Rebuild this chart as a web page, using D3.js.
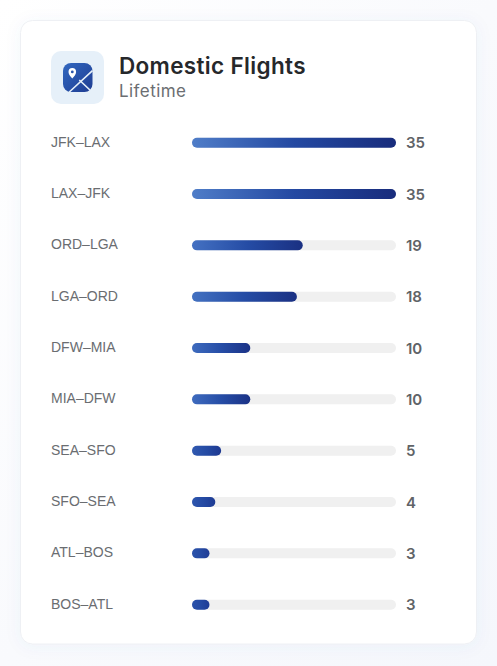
<!DOCTYPE html>
<html><head><meta charset="utf-8">
<script src="https://cdnjs.cloudflare.com/ajax/libs/d3/7.8.5/d3.min.js"></script>
<style>html,body{margin:0;padding:0;background:#fff;overflow:hidden}svg{display:block}</style>
</head><body><svg id="c" width="497" height="666"></svg>
<script>
const routes = ["JFK–LAX","LAX–JFK","ORD–LGA","LGA–ORD","DFW–MIA","MIA–DFW","SEA–SFO","SFO–SEA","ATL–BOS","BOS–ATL"];
const flights = [35,35,19,18,10,10,5,4,3,3];
const title = "Domestic Flights";
const subtitle = "Lifetime";

const svg = d3.select("#c");
const defs = svg.append("defs");
const bg = defs.append("linearGradient").attr("id","bg").attr("x1",0).attr("y1",0).attr("x2",1).attr("y2",1);
bg.append("stop").attr("offset",0).attr("stop-color","#ffffff");
bg.append("stop").attr("offset",0.5).attr("stop-color","#f9fafd");
bg.append("stop").attr("offset",1).attr("stop-color","#f5f7fc");
const ig = defs.append("linearGradient").attr("id","ig").attr("x1",0).attr("y1",0).attr("x2",1).attr("y2",1);
ig.append("stop").attr("offset",0).attr("stop-color","#3268c0");
ig.append("stop").attr("offset",1).attr("stop-color","#1e3c92");
const sh = defs.append("filter").attr("id","sh").attr("x","-10%").attr("y","-10%").attr("width","120%").attr("height","120%");
sh.append("feDropShadow").attr("dx",0).attr("dy",2).attr("stdDeviation",8).attr("flood-color","#5a6fb0").attr("flood-opacity",0.05);

svg.append("rect").attr("width",497).attr("height",666).attr("fill","url(#bg)");
svg.append("rect").attr("x",20.5).attr("y",20.5).attr("width",456).attr("height",623.5).attr("rx",12)
  .attr("fill","#fff").attr("stroke","#eef0f4").attr("filter","url(#sh)");

// icon
svg.append("rect").attr("x",51).attr("y",51).attr("width",53).attr("height",53).attr("rx",10).attr("fill","#e6f0f9");
svg.append("rect").attr("x",63).attr("y",63).attr("width",29.5).attr("height",29).attr("rx",8).attr("fill","url(#ig)");
svg.append("path").attr("d","M69.3 92L92.5 70.7M79.3 80L91 91").attr("stroke","#e6f0f9").attr("stroke-width",1.6).attr("fill","none");
svg.append("path").attr("d","M72.3 78.6C70.6 76.4 68.5 74.2 68.5 71.9A3.8 3.8 0 0 1 76.1 71.9C76.1 74.2 74 76.4 72.3 78.6Z").attr("fill","#fff");
svg.append("circle").attr("cx",72.3).attr("cy",71.9).attr("r",1.4).attr("fill","#2a55ab");

svg.append("text").attr("x",119).attr("y",73.5).text(title)
  .attr("font-family","Inter").attr("font-weight",600).attr("font-size",22.5).attr("textLength",186.5).attr("lengthAdjust","spacing").attr("fill","#26282b");
svg.append("text").attr("x",119).attr("y",97).text(subtitle)
  .attr("font-family","Inter").attr("font-weight",400).attr("font-size",17).attr("textLength",67).attr("lengthAdjust","spacing").attr("fill","#6b6e72");

const x = d3.scaleLinear().domain([0,35]).range([192,396]);
const y = d3.scalePoint().domain(routes).range([143,605]);
const startC = d3.scaleLinear().domain([3,10,35]).range(["#2a52ab","#3e6bbe","#4f7dc8"]);
const endC = d3.scaleLinear().domain([3,10,35]).range(["#1f3c95","#1b3286","#182c7c"]);
const midC = d3.scaleLinear().domain([3,10,35]).range(["#254aa3","#264da6","#2449a2"]);
const rows = d3.zip(routes, flights);
rows.forEach((r,i)=>{
  const g = defs.append("linearGradient").attr("id","b"+i);
  g.append("stop").attr("offset",0).attr("stop-color",startC(r[1]));
  g.append("stop").attr("offset",0.5).attr("stop-color",midC(r[1]));
  g.append("stop").attr("offset",1).attr("stop-color",endC(r[1]));
});
const row = svg.selectAll("g.row").data(rows).join("g").attr("class","row");
row.append("text").attr("x",51).attr("y",d=>y(d[0])+3.6).text(d=>d[0])
  .attr("font-family","Liberation Sans").attr("font-size",14).attr("fill","#6a6d71");
row.append("rect").attr("x",x(0)).attr("y",d=>y(d[0])-5.3).attr("width",x(35)-x(0)).attr("height",10).attr("rx",5).attr("fill","#f0f0f0");
row.append("rect").attr("x",x(0)).attr("y",d=>y(d[0])-5.3).attr("width",d=>x(d[1])-x(0)).attr("height",10).attr("rx",5).attr("fill",(d,i)=>`url(#b${i})`);
row.append("text").attr("x",406).attr("y",d=>y(d[0])+5.4).text(d=>d[1])
  .attr("font-family","Inter").attr("font-weight",600).attr("font-size",15).attr("fill","#606367");
</script></body></html>
